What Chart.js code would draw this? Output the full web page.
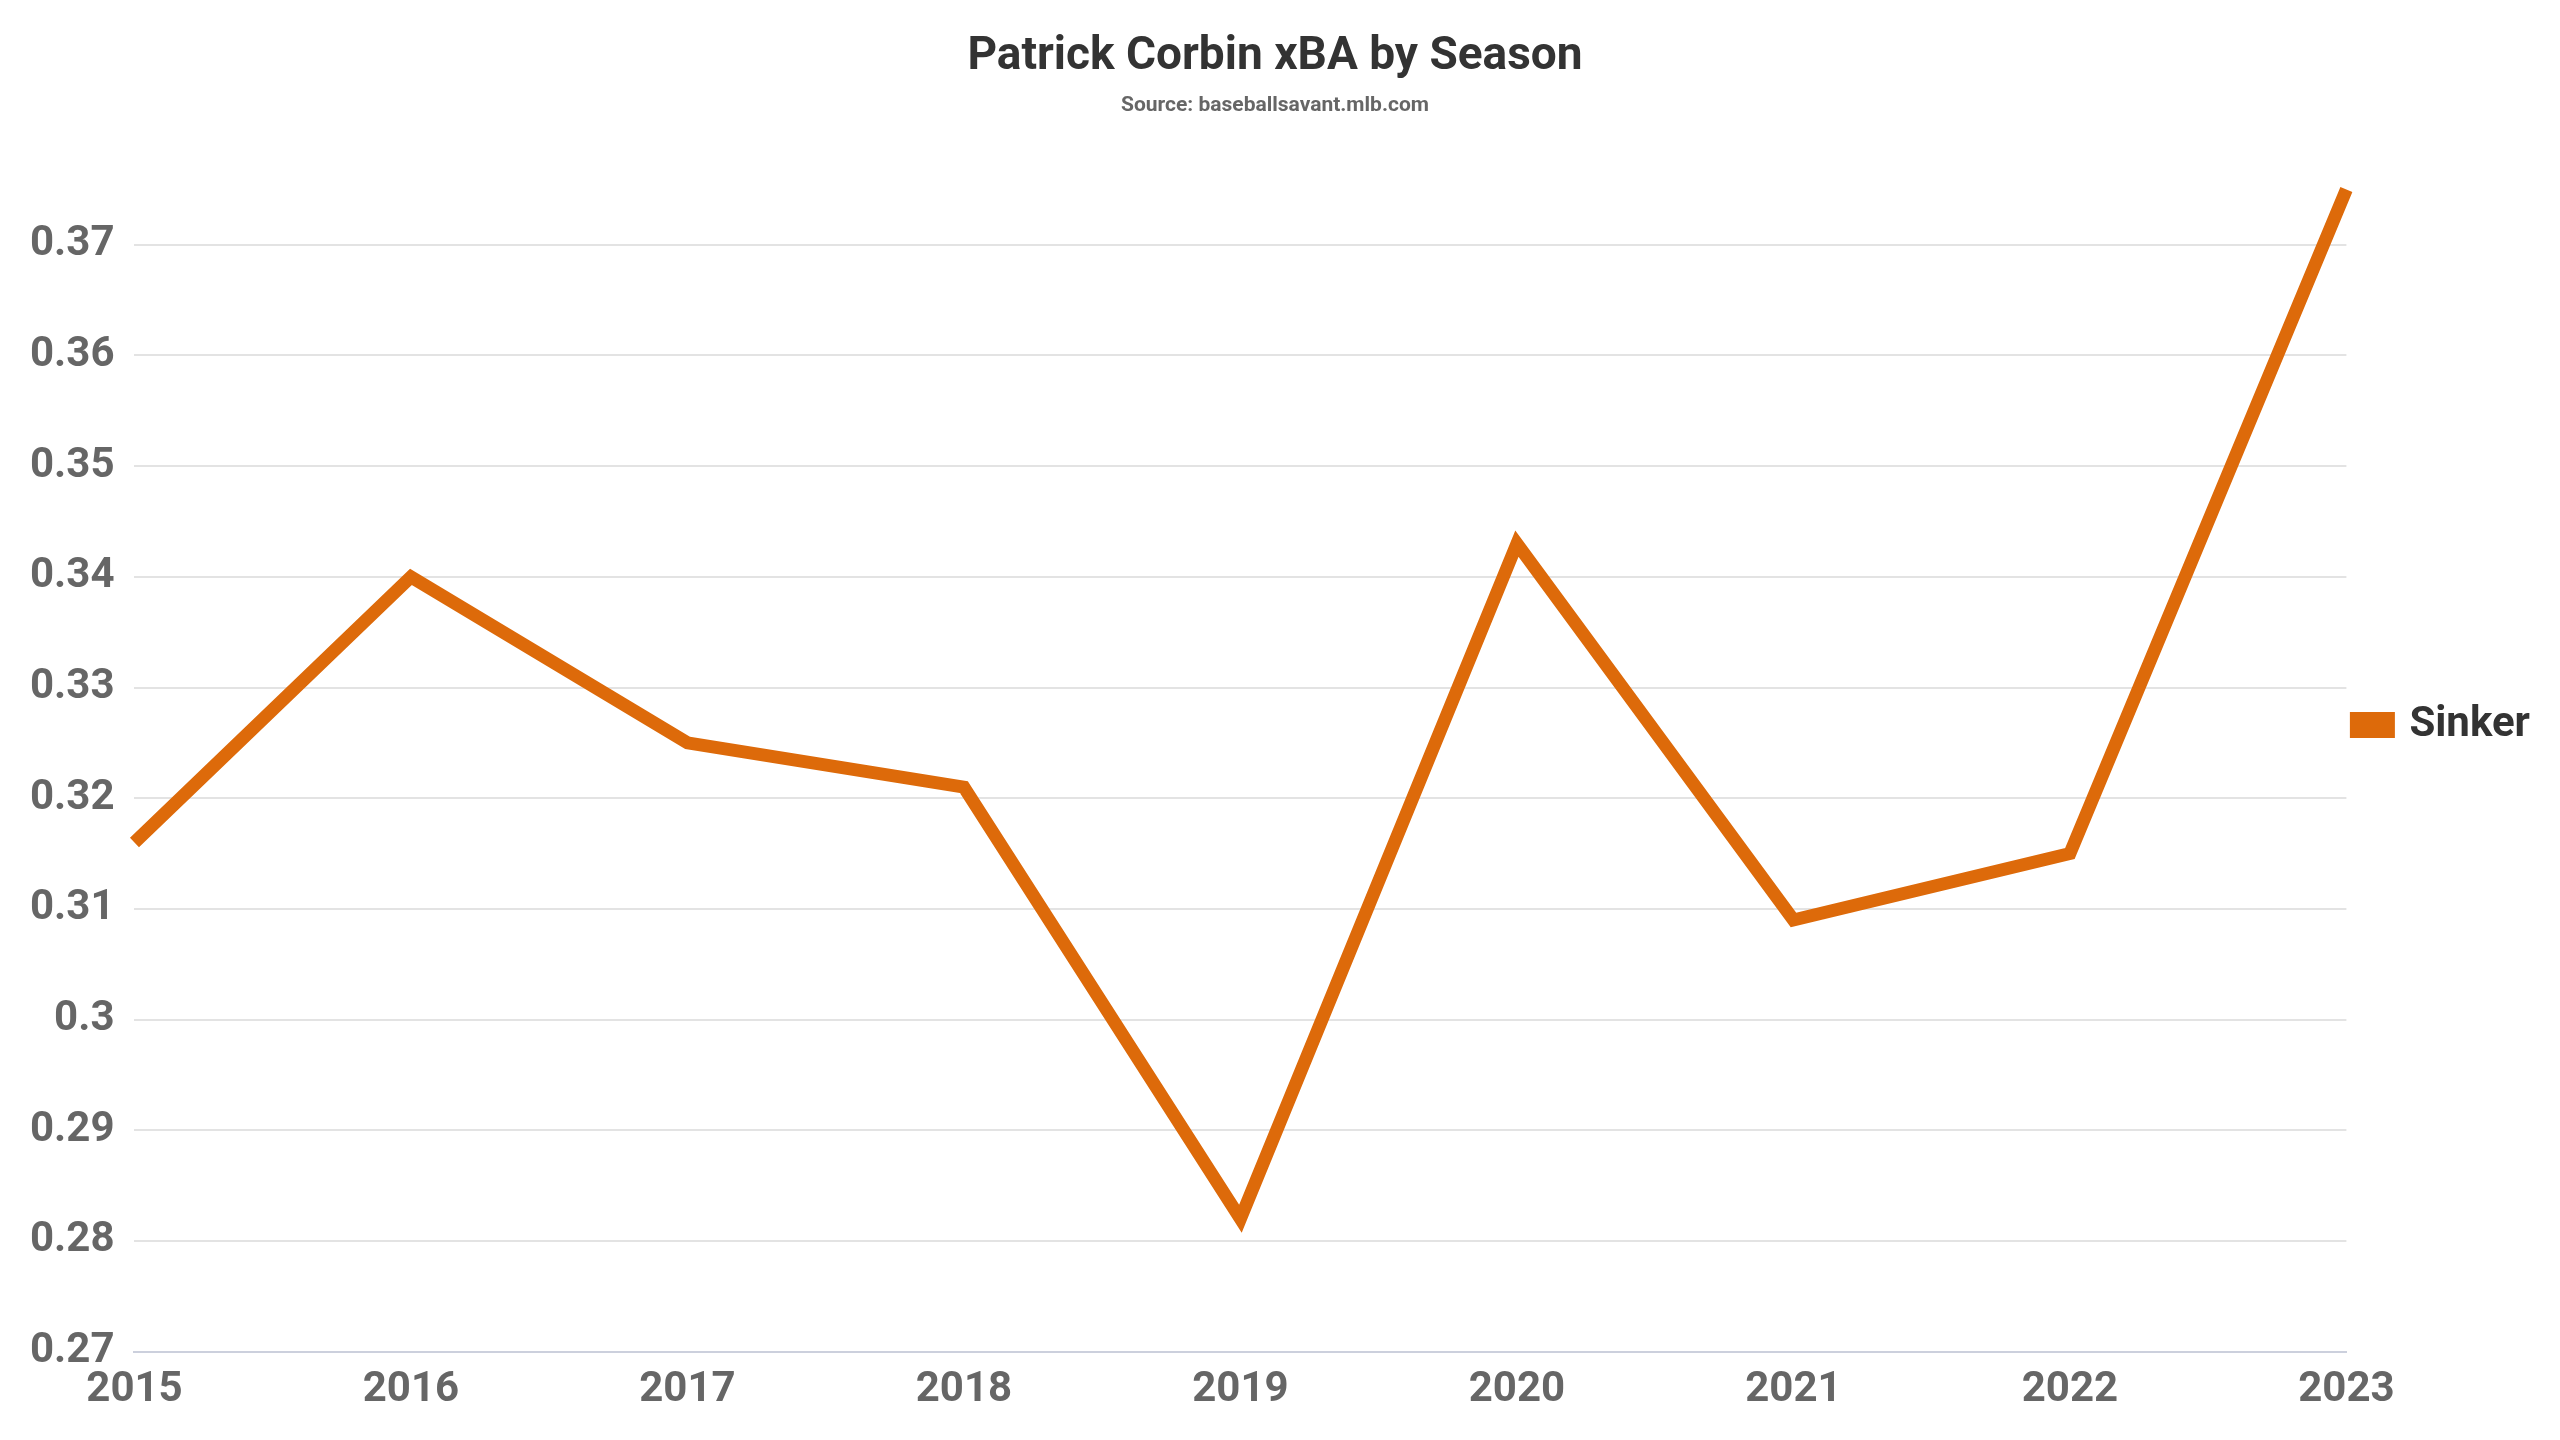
<!DOCTYPE html>
<html>
<head>
<meta charset="utf-8">
<script src="https://cdn.jsdelivr.net/npm/chart.js@4"></script>
<style>
  html, body { margin: 0; padding: 0; background: #fff; }
  #wrap { width: 2560px; height: 1440px; }
</style>
</head>
<body>
<div id="wrap"><canvas id="chart" width="2560" height="1440"></canvas></div>
<script>
const seasons = ['2015', '2016', '2017', '2018', '2019', '2020', '2021', '2022', '2023'];
const sinkerXBA = [0.316, 0.340, 0.325, 0.321, 0.282, 0.343, 0.309, 0.315, 0.375];

const fontFamily = "'Liberation Sans Narrow', 'Roboto', sans-serif";

const ctx = document.getElementById('chart').getContext('2d');
new Chart(ctx, {
    type: 'line',
    data: {
        labels: seasons,
        datasets: [{
            label: 'Sinker',
            data: sinkerXBA,
            borderColor: '#dd6a0a',
            backgroundColor: '#dd6a0a',
            borderWidth: 13,
            pointRadius: 0,
            tension: 0,
        }]
    },
    options: {
        responsive: false,
        animation: false,
        layout: { padding: { left: 10, right: 20, top: 20, bottom: 10 } },
        scales: {
            x: {
                offset: false,
                grid: { display: false, drawTicks: false },
                border: { color: '#ccd0dd', width: 2 },
                ticks: { color: '#666', font: { family: fontFamily, size: 42, weight: 'bold' }, padding: 14 },
            },
            y: {
                min: 0.27,
                max: 0.376,
                afterBuildTicks: axis => {
                    axis.ticks = axis.ticks.filter(t => Math.abs(t.value * 100 - Math.round(t.value * 100)) < 1e-6);
                },
                ticks: {
                    stepSize: 0.01,
                    color: '#666',
                    font: { family: fontFamily, size: 42, weight: 'bold' },
                    padding: 20,
                    callback: v => String(+v.toFixed(2)),
                },
                grid: { color: '#e3e3e3', lineWidth: 2, drawTicks: false },
                border: { display: false },
            }
        },
        plugins: {
            title: {
                display: true,
                text: 'Patrick Corbin xBA by Season',
                color: '#333',
                font: { family: fontFamily, size: 46, weight: 'bold' },
                padding: { top: 10, bottom: 8 },
            },
            subtitle: {
                display: true,
                text: 'Source: baseballsavant.mlb.com',
                color: '#666',
                font: { family: fontFamily, size: 21, weight: 'bold' },
                padding: { bottom: 60 },
            },
            legend: {
                position: 'right',
                labels: {
                    color: '#333',
                    font: { family: fontFamily, size: 42, weight: 'bold' },
                    boxWidth: 32,
                    boxHeight: 13,
                    padding: 10,
                }
            },
            tooltip: { enabled: false },
        }
    }
});
</script>
</body>
</html>
